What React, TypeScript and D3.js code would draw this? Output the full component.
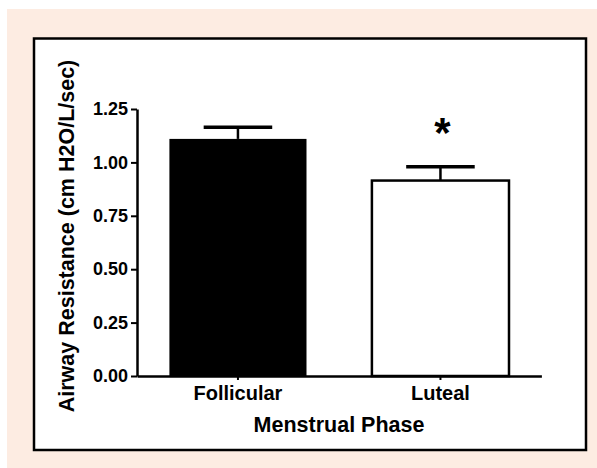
import * as d3 from "d3";
import { useEffect, useRef } from "react";

// chart values
const phases = ["Follicular", "Luteal"];
const means = [1.11, 0.915];
const sems = [0.055, 0.065];
const fills = ["#000000", "#ffffff"];
const marks = ["", "*"];
const yTicks = [0, 0.25, 0.5, 0.75, 1.0, 1.25];

const FONT = "Arial, 'Liberation Sans', Helvetica, sans-serif";

export default function App() {
  const xRef = useRef<SVGGElement>(null);
  const yRef = useRef<SVGGElement>(null);

  const W = 597,
    H = 468;
  const left = 137,
    right = 541.4,
    top = 109,
    bottom = 376;

  const x = d3
    .scaleBand()
    .domain(phases)
    .range([left, right])
    .paddingInner(0.323)
    .paddingOuter(0.16);
  const y = d3.scaleLinear().domain([0, 1.25]).range([bottom, top]);

  useEffect(() => {
    // y axis
    const gy = d3.select(yRef.current);
    gy.selectAll("*").remove();
    gy.call(
      d3
        .axisLeft(y)
        .tickValues(yTicks)
        .tickFormat(d3.format(".2f"))
        .tickSize(6)
        .tickPadding(3)
        .tickSizeOuter(0)
    );
    gy.select(".domain").attr("stroke", "#000").attr("stroke-width", 2.5);
    gy.selectAll(".tick line").attr("stroke", "#000").attr("stroke-width", 2);
    gy.selectAll(".tick text")
      .attr("fill", "#000")
      .style("font-family", FONT)
      .style("font-weight", "bold")
      .style("font-size", "18px");

    // x axis
    const gx = d3.select(xRef.current);
    gx.selectAll("*").remove();
    gx.call(d3.axisBottom(x).tickSize(4).tickPadding(6).tickSizeOuter(0));
    gx.select(".domain").attr("stroke", "#000").attr("stroke-width", 2.5);
    gx.selectAll(".tick line").attr("stroke", "#000").attr("stroke-width", 2);
    gx.selectAll(".tick text")
      .attr("fill", "#000")
      .style("font-family", FONT)
      .style("font-weight", "bold")
      .style("font-size", "20px");
  }, []);

  const bw = x.bandwidth();

  return (
    <svg
      width={W}
      height={H}
      style={{ position: "absolute", left: 0, top: 0, background: "#fff" }}
    >
      <rect x={7} y={9} width={W - 7} height={H - 9} fill="#fdece2" />
      <rect
        x={34}
        y={38.5}
        width={552}
        height={411.5}
        fill="#fff"
        stroke="#000"
        strokeWidth={2.5}
      />

      {phases.map((p, i) => {
        const cx = (x(p) as number) + bw / 2;
        const yTop = y(means[i]);
        const yErr = y(means[i] + sems[i]);
        const isWhite = fills[i] === "#ffffff";
        return (
          <g key={p}>
            <line x1={cx} x2={cx} y1={yTop} y2={yErr} stroke="#000" strokeWidth={2.5} />
            <line
              x1={cx - bw / 4}
              x2={cx + bw / 4}
              y1={yErr}
              y2={yErr}
              stroke="#000"
              strokeWidth={3.5}
            />
            <rect
              x={x(p) as number}
              y={yTop}
              width={bw}
              height={bottom - yTop}
              fill={fills[i]}
              stroke="#000"
              strokeWidth={isWhite ? 2.5 : 0}
            />
            {marks[i] && (
              <text
                x={cx + 2}
                y={yErr - 19.5}
                textAnchor="middle"
                fontFamily={FONT}
                fontWeight="bold"
                fontSize={42}
              >
                {marks[i]}
              </text>
            )}
          </g>
        );
      })}

      <g ref={yRef} transform={`translate(${left},0)`} />
      <g ref={xRef} transform={`translate(0,${bottom})`} />

      <text
        transform={`translate(74,236) rotate(-90)`}
        textAnchor="middle"
        fontFamily={FONT}
        fontWeight="bold"
        fontSize={21.5}
      >
        Airway Resistance (cm H2O/L/sec)
      </text>
      <text
        x={339}
        y={431.5}
        textAnchor="middle"
        fontFamily={FONT}
        fontWeight="bold"
        fontSize={21.5}
      >
        Menstrual Phase
      </text>
    </svg>
  );
}
